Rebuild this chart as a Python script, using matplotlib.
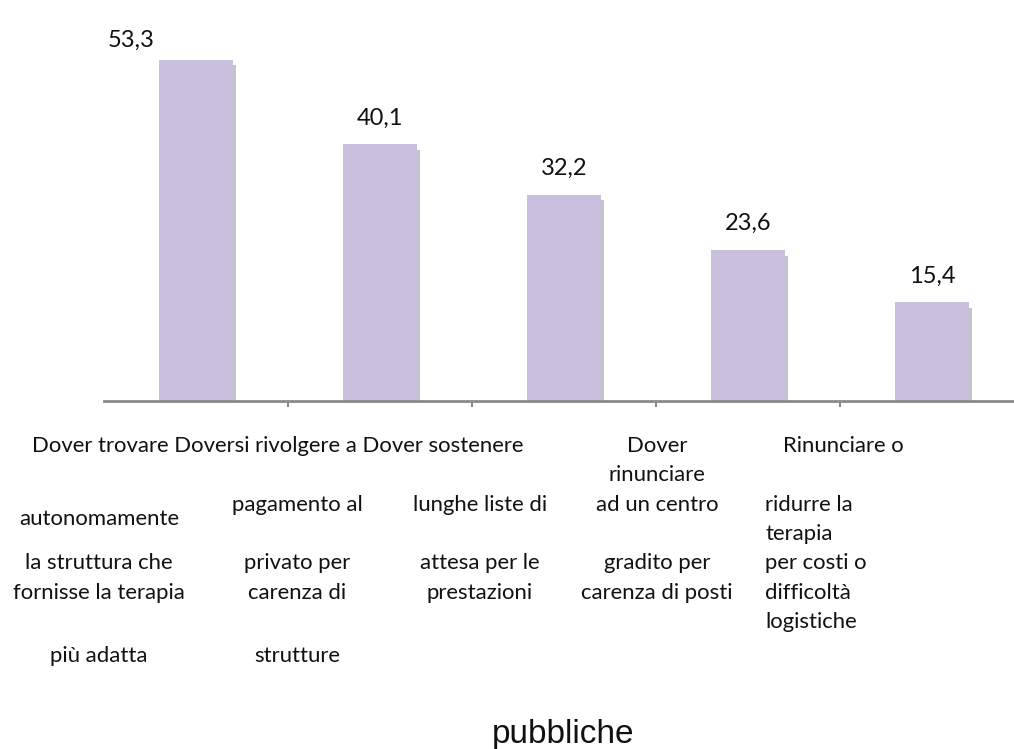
import matplotlib
matplotlib.use('Agg')
import matplotlib.pyplot as plt
import matplotlib.patheffects as pe
import numpy as np

# valori percentuali per ostacolo
valori = [53.3, 40.1, 32.2, 23.6, 15.4]
etichette_valori = ['53,3', '40,1', '32,2', '23,6', '15,4']

# righe del testo di ogni categoria
righe = [
    ['Dover trovare', 'autonomamente', 'la struttura che', 'fornisse la terapia', 'più adatta'],
    ['Doversi rivolgere a', 'pagamento al', 'privato per', 'carenza di', 'strutture'],
    ['Dover sostenere', 'lunghe liste di', 'attesa per le', 'prestazioni'],
    ['Dover', 'rinunciare', 'ad un centro', 'gradito per', 'carenza di posti'],
    ['Rinunciare o', 'ridurre la', 'terapia', 'per costi o', 'difficoltà', 'logistiche'],
]
ultima_riga = 'pubbliche'
titolo = 'Figura 3 – Ostacoli incontrati a seguito della proposta della terapia riabilitativa (%)'

W, H = 1014, 749
fig = plt.figure(figsize=(W / 100, H / 100), dpi=100)
fig.patch.set_facecolor('white')

# asse: base a y=401 px, 6.4 px per punto percentuale
x0, x1 = 104, 1024
y_base = 401
ax = fig.add_axes([x0 / W, (H - y_base) / H, (x1 - x0) / W, 60 * 6.4 / H])
ax.set_xlim(-0.5, 4.5)
ax.set_ylim(0, 60)

x = np.arange(len(valori))
barre = ax.bar(x, valori, width=0.4, color='#c8c0dc', zorder=2)
for b in barre:
    b.set_path_effects([pe.SimplePatchShadow(offset=(2.5, -4), shadow_rgbFace='#8a8a8a', alpha=0.5),
                        pe.Normal()])

for s in ['top', 'right', 'left']:
    ax.spines[s].set_visible(False)
ax.spines['bottom'].set_color('#8a8a8a')
ax.spines['bottom'].set_linewidth(2)
ax.set_yticks([])
ax.set_xticks(x[:-1] + 0.5)
ax.set_xticklabels([])
ax.tick_params(axis='x', length=4, width=1.5, color='#8a8a8a', direction='out')

# etichette dei valori sopra le barre (la prima spostata a sinistra)
for i, (v, t) in enumerate(zip(valori, etichette_valori)):
    dx, dy = (-47, 14) if i == 0 else (0, 19)
    ax.annotate(t, (i, v), xytext=(dx, dy), textcoords='offset points',
                ha='center', va='center', fontsize=17, family='Lato', color='#111111')

# testo delle categorie sotto l'asse (coordinate in pixel dal bordo superiore)
def px(xp, yp):
    return xp / W, 1 - yp / H

fs = 15.9
kw = dict(family='Lato', fontsize=fs, color='#111111', va='center')
prima = ' '.join(r[0] for r in righe[:3])
fig.text(*px(32, 446), prima, ha='left', **kw)

centri = [99, 297, 480, 657]
y_righe = [
    [519, 563, 593, 656],
    [505, 563, 593, 656],
    [505, 563, 593],
    [446, 475, 505, 563, 593],
]
for c in range(3):
    for r, yp in zip(righe[c][1:], y_righe[c]):
        fig.text(*px(centri[c], yp), r, ha='center', **kw)
for r, yp in zip(righe[3], y_righe[3]):
    fig.text(*px(centri[3], yp), r, ha='center', **kw)

fig.text(*px(843, 446), righe[4][0], ha='center', **kw)
for r, yp in zip(righe[4][1:], [505, 534, 563, 593, 622]):
    fig.text(*px(765, yp), r, ha='left', **kw)

fig.text(*px(563, 743), ultima_riga, ha='center', family='Liberation Sans',
         fontsize=24, color='#111111', va='baseline')

# titolo tagliato dal bordo superiore
fig.text(*px(6, -5.5), titolo, ha='left', va='baseline', family='Liberation Serif',
         fontweight='bold', fontsize=20, color='#111111')

fig.savefig('out.png', dpi=100, facecolor='white')
